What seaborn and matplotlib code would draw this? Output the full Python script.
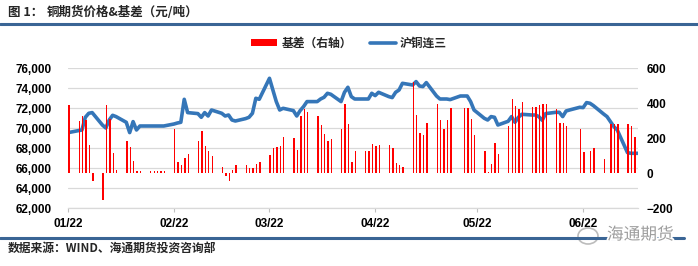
import numpy as np
import pandas as pd
import matplotlib
matplotlib.use("Agg")
import matplotlib.pyplot as plt
import matplotlib.dates as mdates
from matplotlib.lines import Line2D
from matplotlib.patches import Patch, Ellipse
import matplotlib.patheffects as pe
import seaborn as sns

# ---------------- data ----------------
start_date = "2022-01-07"
end_date = "2022-06-23"
tick_dates = ["2022-01-07", "2022-02-07", "2022-03-07",
              "2022-04-07", "2022-05-07", "2022-06-07"]

# 沪铜连三 (元/吨), one value per weekday
price = [
    69570,
    69770, 69830, 71100, 71500, 71570,
    70330, 70030, 70830, 71300, 71170,
    70600, 69570, 70670, 69830, 70230,
    70230, 70230, 70230, 70230, 70230,
    70430, 70530, 70600, 72900, 71570,
    71470, 71100, 71570, 71230, 71830,
    71500, 71230, 71330, 70830, 70730,
    70970, 71100, 71500, 73000, 72900,
    75000, 73830, 72670, 71830, 72000,
    71770, 71230, 71770, 72170, 72670,
    72670, 72930, 73100, 73500, 73400,
    72670, 73600, 74100, 73170, 72930,
    72930, 72930, 73500, 73270, 73600,
    73170, 73070, 73600, 73830, 74500,
    74330, 74670, 74230, 74170, 74570,
    73230, 72930, 72930, 72930, 72870,
    73230, 73230, 73230, 72670, 71830,
    71000, 70830, 71170, 71100, 70330,
    70700, 71170, 70600, 71100, 71400,
    71330, 71330, 71170, 70800, 71470,
    71600, 71600, 71170, 71730, 71830,
    72100, 72070, 72570, 72500, 72270,
    71430, 71170, 70670, 70170, 69830,
    67570, 67500, 67500, 67500,
]

# 基差 (右轴), NaN = no bar
nan = np.nan
basis = [
    390,
    299, 328, 305, 162, -42,
    -152, 390, 309, 114, 19,
    185, 149, 72, 13, 13,
    13, 13, 13, 13, 13,
    253, 65, 48, 90, 109,
    185, 242, 156, 130, 99,
    34, -15, -42, 19, 48,
    48, 29, 29, 51, 63,
    103, 143, 149, 158, 208,
    200, 133, 328, 366, 350,
    330, 274, 225, 185, 194,
    253, 396, 280, 65, 130,
    130, 130, 168, 156, 162,
    162, 143, 57, 48, 38,
    520, 333, 232, 219, 286,
    396, 305, 253, 305, 375,
    nan, 375, 375, 309, 219,
    130, 8, 51, 173, 112,
    272, 425, 385, 366, 406,
    379, 379, 390, 394, 394,
    370, 286, 286, 271, nan,
    251, 124, nan, 128, 143,
    80, nan, 280, 280, 280,
    280, 271, 210, nan,
]

left_ticks = [62000, 64000, 66000, 68000, 70000, 72000, 74000, 76000]
right_ticks = [-200, 0, 200, 400, 600]

series_price = "沪铜连三"
series_basis = "基差（右轴）"
title_num = "图 1："
title_text = "铜期货价格&基差（元/吨）"
source_text = "数据来源：WIND、海通期货投资咨询部"
watermark_text = "海通期货"

# ---------------- style ----------------
sns.set_theme(style="white")
cjk = ["Noto Sans CJK SC", "DejaVu Sans"]
plt.rcParams["font.family"] = cjk
plt.rcParams["axes.unicode_minus"] = True

LINE_BLUE = "#3576B8"
BAR_RED = "#FF0000"
RULE_BLUE = "#3A6595"
GRID = "#D9D9D9"
num_font = dict(fontfamily="Liberation Sans", fontweight="bold", fontsize=8.5, color="black")

W, H = 698, 266
dates = pd.bdate_range(start_date, end_date)
df = pd.DataFrame({"date": dates, "price": price, "basis": basis})

fig = plt.figure(figsize=(W / 100, H / 100), dpi=100)
ax1 = fig.add_axes([68.3 / W, 1 - 208.3 / H, (637.7 - 68.3) / W, 140 / H])
ax2 = ax1.twinx()

sns.lineplot(data=df, x="date", y="price", ax=ax1, color=LINE_BLUE,
             linewidth=2.6, legend=False, zorder=3)
bar_df = df.dropna(subset=["basis"])
ax2.bar(bar_df["date"], bar_df["basis"], width=0.4, align="edge",
        color=BAR_RED, linewidth=0, zorder=3)

# axes limits and ticks
ax1.set_xlim(pd.Timestamp(start_date), pd.Timestamp(end_date))
ax1.set_ylim(left_ticks[0], left_ticks[-1])
ax2.set_ylim(right_ticks[0], right_ticks[-1])

tick_ts = pd.to_datetime(tick_dates)
ax1.set_xticks(mdates.date2num(tick_ts), labels=[t.strftime("%m/%y") for t in tick_ts], **num_font)
ax1.set_yticks(left_ticks, labels=[f"{v:,}" for v in left_ticks], **num_font)
ax2.set_yticks(right_ticks, labels=[str(v).replace("-", "\u2212") for v in right_ticks], **num_font)

ax1.set_xlabel("")
ax1.set_ylabel("")
ax2.set_ylabel("")

ax1.grid(axis="y", color=GRID, linewidth=0.9)
ax1.grid(axis="x", visible=False)
ax1.set_axisbelow(True)
for ax in (ax1, ax2):
    for s in ("top", "left", "right"):
        ax.spines[s].set_visible(False)
    ax.spines["bottom"].set_visible(False)
ax1.spines["bottom"].set_visible(True)
ax1.spines["bottom"].set_color(GRID)
ax1.spines["bottom"].set_linewidth(0.9)

ax1.tick_params(axis="x", length=3, width=0.8, color="#BFBFBF", pad=4, bottom=True)
ax1.tick_params(axis="y", length=0, pad=12)
ax2.tick_params(axis="y", length=0, pad=6.5)

# legend
handles = [Patch(facecolor=BAR_RED, edgecolor="none", label=series_basis),
           Line2D([], [], color=LINE_BLUE, linewidth=2.6, label=series_price)]
fig.legend(handles=handles, loc="center", bbox_to_anchor=(349 / W, 1 - 43.5 / H),
           ncol=2, frameon=False, prop={"family": cjk, "weight": "bold", "size": 8.5},
           handlelength=2.2, handleheight=0.55, handletextpad=0.35, columnspacing=1.5)

# title and rules
fig.text(8 / W, 1 - 12.8 / H, title_num, fontsize=9, fontweight="bold", va="center", ha="left")
fig.text(47 / W, 1 - 12.8 / H, title_text, fontsize=9, fontweight="bold", va="center", ha="left")
fig.add_artist(Line2D([0, 1], [1 - 24.2 / H] * 2, transform=fig.transFigure,
                      color=RULE_BLUE, linewidth=2.2))
fig.add_artist(Line2D([0, 684 / W], [1 - 238.3 / H] * 2, transform=fig.transFigure,
                      color=RULE_BLUE, linewidth=2.2))
fig.text(8 / W, 1 - 248 / H, source_text, fontsize=8.5, fontweight="bold", va="center", ha="left")

# watermark
fig.add_artist(Ellipse((588 / W, 1 - 236 / H), 20 / W, 16 / H, transform=fig.transFigure,
                       facecolor="white", edgecolor="#B5B5B5", linewidth=1.2, alpha=0.9))
fig.text(607 / W, 1 - 235 / H, watermark_text, fontsize=12, color="#9E9E9E", va="center", ha="left",
         path_effects=[pe.withStroke(linewidth=2.5, foreground="white")])

fig.savefig("out.png", dpi=100)
